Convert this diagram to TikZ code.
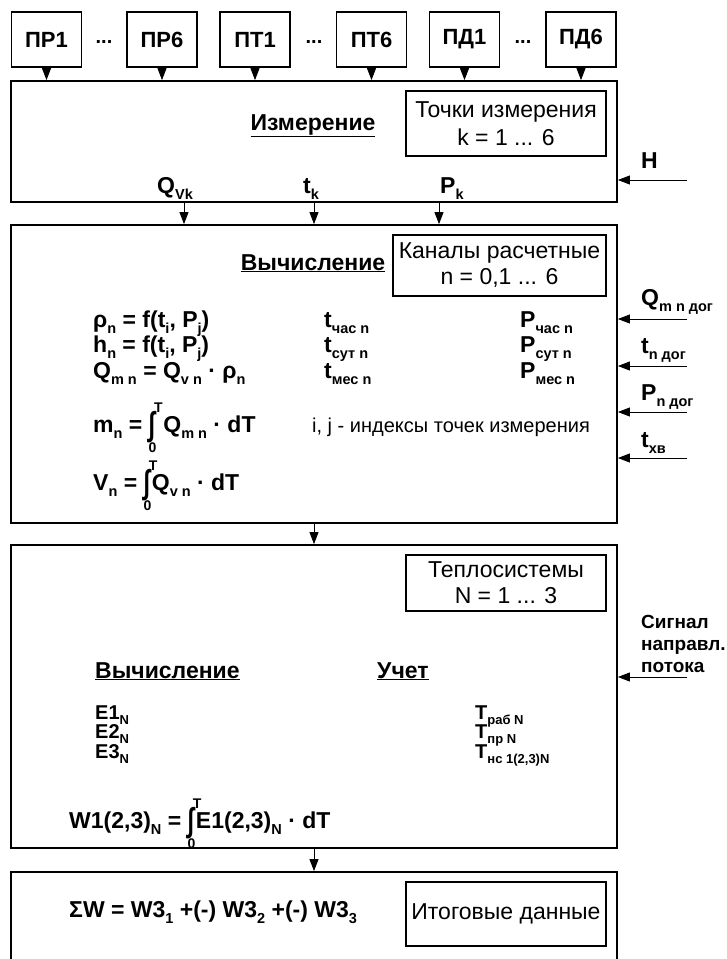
\documentclass[tikz,border=0pt]{standalone}
\usepackage{fontspec}
\setmainfont{Liberation Sans}
\usetikzlibrary{arrows.meta}

\newcommand\lo[1]{\raisebox{-6.5pt}{\fontsize{14.5}{14.5}\selectfont #1}}
\newcommand\los[1]{\raisebox{-5pt}{\fontsize{13}{13}\selectfont #1}}
\newcommand\integ{%
  \rlap{\raisebox{-20pt}{\fontsize{14}{14}\selectfont 0}}%
  \raisebox{-3pt}{\scalebox{1}[1.45]{∫}}%
  \rlap{\raisebox{20pt}{\hspace{-1pt}\fontsize{14}{14}\selectfont T}}\hspace{2pt}}

\begin{document}
\begin{tikzpicture}[x=1pt,y=-1pt,
  >={Triangle[length=12pt,width=9pt]},
  sensor/.style={draw,line width=1.4pt,minimum width=70pt,minimum height=55pt,
    font=\bfseries\fontsize{22}{24}\selectfont},
  blk/.style={draw,line width=1.8pt,minimum width=606pt},
  info/.style={draw,line width=1.6pt,minimum width=200pt,align=center,
    font=\fontsize{23}{26}\selectfont},
  lbl/.style={inner sep=0pt,font=\bfseries\fontsize{23}{24}\selectfont},
  row/.style={inner sep=0pt,anchor=base west,font=\bfseries\fontsize{20}{22}\selectfont},
  txt/.style={inner sep=0pt,font=\fontsize{20}{22}\selectfont},
  arr/.style={->,line width=0.9pt}
]
  \useasboundingbox (0,0) rectangle (727,959);

  % sensors
  \node[sensor] (pr1) at (46.5,39.5) {ПР1};
  \node[sensor] (pr6) at (162,39.5) {ПР6};
  \node[sensor] (pt1) at (255,39.5) {ПТ1};
  \node[sensor] (pt6) at (371.5,39.5) {ПТ6};
  \node[sensor] (pd1) at (464.5,39.5) {ПД1};
  \node[sensor] (pd6) at (581,39.5) {ПД6};
  \node[lbl,anchor=base,font=\bfseries\fontsize{20}{22}\selectfont] (dots1) at (104,43) {...};
  \node[lbl,anchor=base,font=\bfseries\fontsize{20}{22}\selectfont] (dots2) at (314,43) {...};
  \node[lbl,anchor=base,font=\bfseries\fontsize{20}{22}\selectfont] (dots3) at (523,43) {...};

  % measurement
  \node[blk,minimum height=121pt] (meas) at (314,141.5) {};
  \foreach \s in {pr1,pr6,pt1,pt6,pd1,pd6}
    \draw[arr] (\s.south) -- (\s.south |- meas.north);
  \node[lbl,anchor=base] (measT) at (313,130) {\underline{Измерение}};
  \node[info,minimum height=65pt,font=\fontsize{23}{28}\selectfont] (pts) at (506,123.5)
    {Точки измерения\\k = 1 ... 6};
  \node[lbl,anchor=base west] (qv) at (157,193) {Q\lo{Vk}};
  \node[lbl,anchor=base west] (tk) at (303,193) {t\lo{k}};
  \node[lbl,anchor=base west] (pk) at (440,193) {P\lo{k}};
  \node[lbl,anchor=base west] (hl) at (641,168) {H};
  \coordinate (hin) at (687,180);
  \draw[arr] (hin) -- (hin -| meas.east);

  % calculation
  \node[blk,minimum height=298pt] (calc) at (314,374) {};
  \draw[arr] ([xshift=-130pt]meas.south) -- ([xshift=-130pt]calc.north);
  \draw[arr] (meas.south) -- (calc.north);
  \draw[arr] ([xshift=125pt]meas.south) -- ([xshift=125pt]calc.north);
  \node[lbl,anchor=base] (calcT) at (313,270) {\underline{Вычисление}};
  \node[info,minimum width=213pt,minimum height=61pt] (chan) at (499.5,265.5)
    {Каналы расчетные\\n = 0,1 ... 6};
  \node[lbl,anchor=base west] (rho) at (93,327) {ρ\lo{n} = f(t\lo{i}, P\lo{j})};
  \node[lbl,anchor=base west] (hn) at (93,352) {h\lo{n} = f(t\lo{i}, P\lo{j})};
  \node[lbl,anchor=base west] (qm) at (93,378) {Q\lo{m n} = Q\lo{v n} · ρ\lo{n}};
  \node[lbl,anchor=base west] (mn) at (93,432) {m\lo{n} = \integ\ Q\lo{m n} · dT};
  \node[lbl,anchor=base west] (vn) at (93,490) {V\lo{n} = \integ Q\lo{v n} · dT};
  \node[lbl,anchor=base west] (th) at (324,327) {t\lo{час n}};
  \node[lbl,anchor=base west] (td) at (324,352) {t\lo{сут n}};
  \node[lbl,anchor=base west] (tm) at (324,378) {t\lo{мес n}};
  \node[lbl,anchor=base west] (ph) at (520,327) {P\lo{час n}};
  \node[lbl,anchor=base west] (pd) at (520,352) {P\lo{сут n}};
  \node[lbl,anchor=base west] (pm) at (520,378) {P\lo{мес n}};
  \node[txt,anchor=base west] (idx) at (312,432) {i, j - индексы точек измерения};
  \node[lbl,anchor=base west] (qdog) at (641,305) {Q\lo{m n дог}};
  \node[lbl,anchor=base west] (tdog) at (641,353) {t\lo{n дог}};
  \node[lbl,anchor=base west] (pdog) at (641,400) {P\lo{n дог}};
  \node[lbl,anchor=base west] (txv) at (641,447) {t\lo{хв}};
  \foreach \y/\n in {319/qin,366/tin,412/pin,458/xin} {
    \coordinate (\n) at (687,\y);
    \draw[arr] (\n) -- (\n -| calc.east);
  }

  % heat systems
  \node[blk,minimum height=303pt] (heat) at (314,696.5) {};
  \draw[arr] (calc.south) -- (heat.north);
  \node[info,minimum height=56pt] (sys) at (506,583) {Теплосистемы\\N = 1 ... 3};
  \node[lbl,anchor=base west] (heatT) at (95,678) {\underline{Вычисление}};
  \node[lbl,anchor=base west] (uchT) at (377,678) {\underline{Учет}};
  \node[row] (e1) at (95,719) {E1\los{N}};
  \node[row] (e2) at (95,738.5) {E2\los{N}};
  \node[row] (e3) at (95,758) {E3\los{N}};
  \node[row] (trab) at (475,719) {T\los{раб N}};
  \node[row] (tpr) at (475,738.5) {T\los{пр N}};
  \node[row] (tns) at (475,758) {T\los{нс 1(2,3)N}};
  \node[lbl,anchor=base west] (w1) at (69,828) {W1(2,3)\lo{N} = \integ E1(2,3)\lo{N} · dT};
  \node[lbl,anchor=north west,align=left,font=\bfseries\fontsize{19}{22}\selectfont] (sig)
    at (641,615) {Сигнал\\направл.\\потока};
  \coordinate (sin) at (687,677);
  \draw[arr] (sin) -- (sin -| heat.east);

  % totals
  \node[blk,minimum height=100pt] (res) at (314,922) {};
  \draw[arr] (heat.south) -- (res.north);
  \node[lbl,anchor=base west] (sumw) at (69,917) {ΣW = W3\lo{1} +(-) W3\lo{2} +(-) W3\lo{3}};
  \node[info,minimum height=64pt] (tot) at (506,914) {Итоговые данные};
\end{tikzpicture}
\end{document}
